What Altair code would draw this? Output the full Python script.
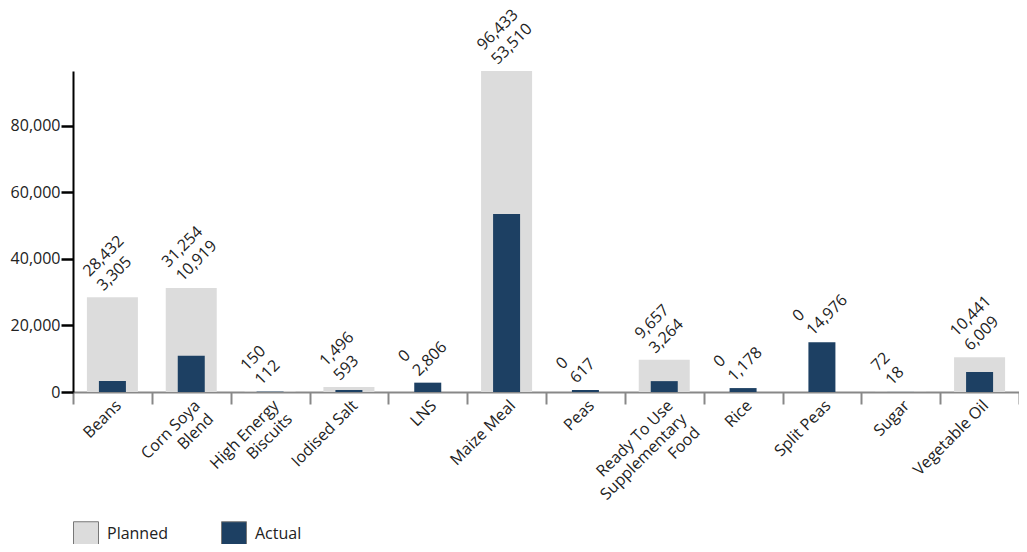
import altair as alt
import pandas as pd

categories = ["Beans", "Corn Soya|Blend", "High Energy|Biscuits", "Iodised Salt", "LNS",
              "Maize Meal", "Peas", "Ready To Use|Supplementary|Food", "Rice",
              "Split Peas", "Sugar", "Vegetable Oil"]
planned = [28432, 31254, 150, 1496, 0, 96433, 0, 9657, 0, 0, 72, 10441]
actual = [3305, 10919, 112, 593, 2806, 53510, 617, 3264, 1178, 14976, 18, 6009]
y_ticks = [0, 20000, 40000, 60000, 80000]

PLANNED_C = "#dcdcdc"
ACTUAL_C = "#1d4063"
FONT = "Open Sans"

df = pd.DataFrame({
    "cat": categories,
    "planned": planned,
    "actual": actual,
})
df["top"] = df[["planned", "actual"]].max(axis=1)
df["label"] = [f"{p:,}\n{a:,}" for p, a in zip(planned, actual)]

x = alt.X("cat:N", sort=categories, title=None,
          scale=alt.Scale(paddingInner=0, paddingOuter=0),
          axis=alt.Axis(labelAngle=-45, labelAlign="right", labelBaseline="top",
                        labelExpr="split(datum.label, '|')", labelFontSize=16,
                        labelColor="#222", labelFont=FONT, labelPadding=-7,
                        domainColor="#888", domainWidth=2, tickColor="#888",
                        tickWidth=2, tickSize=12, tickBand="extent",
                        labelLineHeight=19))

yscale = alt.Scale(domain=[0, max(planned + actual)], nice=False)
yaxis = alt.Axis(values=y_ticks, format=",.0f", title=None, grid=False,
                 domainColor="#000", domainWidth=2, tickColor="#000", tickWidth=2.5,
                 tickSize=12, labelFontSize=16, labelColor="#222", labelFont=FONT,
                 labelPadding=1)

color_scale = alt.Scale(domain=["Planned", "Actual"], range=[PLANNED_C, ACTUAL_C])
legend = alt.Legend(title=None, orient="none", legendX=0, legendY=450,
                    direction="horizontal", symbolType="square", symbolSize=625,
                    symbolStrokeColor="#777", symbolStrokeWidth=1,
                    labelFontSize=16, labelFont=FONT, labelColor="#222",
                    labelOffset=8, columnPadding=51, symbolOpacity=1)

base = alt.Chart(df)

planned_bars = base.transform_calculate(series="'Planned'").mark_bar(size=51).encode(
    x=x,
    y=alt.Y("planned:Q", scale=yscale, axis=yaxis),
    color=alt.Color("series:N", scale=color_scale, legend=legend),
)
actual_bars = base.transform_calculate(series="'Actual'").mark_bar(size=27).encode(
    x=x,
    y=alt.Y("actual:Q", scale=yscale, axis=yaxis),
    color=alt.Color("series:N", scale=color_scale, legend=legend),
)
labels = base.mark_text(angle=315, align="left", baseline="alphabetic", lineBreak="\n",
                        fontSize=16, font=FONT, color="#222", xOffset=-23,
                        yOffset=-20, lineHeight=20).encode(
    x=x,
    y=alt.Y("top:Q", scale=yscale, axis=yaxis),
    text="label:N",
)

chart = alt.layer(planned_bars, actual_bars, labels).properties(
    width=946, height=321,
    autosize=alt.AutoSizeParams(type="none"),
    padding={"left": 65, "top": 63, "right": 0, "bottom": 152},
).configure_view(stroke=None)

chart.save("out.html", embed_options={"renderer": "svg", "actions": False})
